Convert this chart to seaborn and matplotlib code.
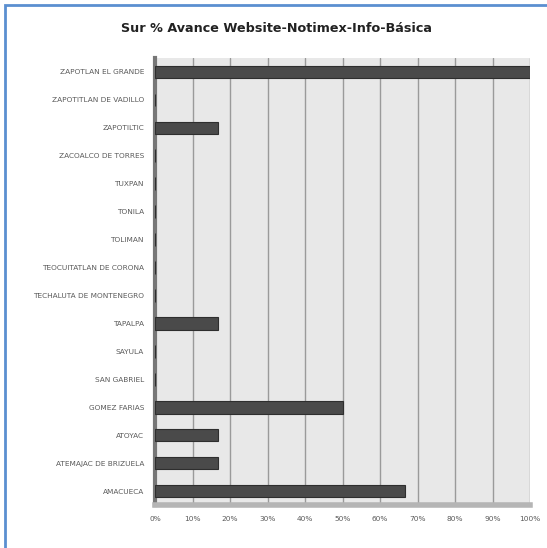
import numpy as np
import pandas as pd
import seaborn as sns
import matplotlib.pyplot as plt
from matplotlib.patches import Rectangle
from matplotlib.ticker import PercentFormatter

municipios = ['ZAPOTLAN EL GRANDE', 'ZAPOTITLAN DE VADILLO', 'ZAPOTILTIC',
              'ZACOALCO DE TORRES', 'TUXPAN', 'TONILA', 'TOLIMAN',
              'TEOCUITATLAN DE CORONA', 'TECHALUTA DE MONTENEGRO', 'TAPALPA',
              'SAYULA', 'SAN GABRIEL', 'GOMEZ FARIAS', 'ATOYAC',
              'ATEMAJAC DE BRIZUELA', 'AMACUECA']
avance = [1.0, 0.0, 0.167, 0.0, 0.0, 0.0, 0.0,
          0.0, 0.0, 0.167, 0.0, 0.0, 0.5, 0.167,
          0.167, 0.667]
x_ticks = [0, 0.1, 0.2, 0.3, 0.4, 0.5, 0.6, 0.7, 0.8, 0.9, 1.0]

df = pd.DataFrame({'municipio': municipios, 'avance': avance})

sns.set_theme(style='white')
plt.rcParams['font.family'] = ['DejaVu Sans']

fig = plt.figure(figsize=(5.47, 5.48), dpi=100)
ax = fig.add_axes([155 / 547, 1 - 505 / 548, 375 / 547, 447 / 548])

ax.set_facecolor('#e8e8e8')
sns.barplot(data=df, x='avance', y='municipio', orient='h', color='#4a4a4a',
            width=0.45, edgecolor='#2e2e2e', linewidth=0.8, ax=ax, zorder=3)

ax.set_xlim(0, 1.0)
ax.set_xticks(x_ticks)
ax.xaxis.set_major_formatter(PercentFormatter(1.0, decimals=0))
ax.grid(axis='x', color='#9a9a9a', linewidth=1.0, zorder=0)
ax.set_axisbelow(True)
ax.set_xlabel('')
ax.set_ylabel('')
ax.tick_params(axis='both', labelsize=5.3, labelcolor='#5a5a5a', length=0, pad=8)

for side in ['top', 'right']:
    ax.spines[side].set_visible(False)
ax.spines['left'].set_color('#777777')
ax.spines['left'].set_linewidth(3)
ax.spines['bottom'].set_color('#b5b5b5')
ax.spines['bottom'].set_linewidth(4)

fig.text(0.505, 1 - 28 / 548, 'Sur % Avance Website-Notimex-Info-Básica',
         ha='center', va='center', fontsize=9.2, fontweight='bold', color='#222222')

# blue frame at left and top
fig.patches.append(Rectangle((5 / 547, -0.1), 1.2, 1.1 - 5 / 548,
                             transform=fig.transFigure, fill=False,
                             edgecolor='#5b8fd0', linewidth=2))

fig.savefig('out.png', dpi=100)
